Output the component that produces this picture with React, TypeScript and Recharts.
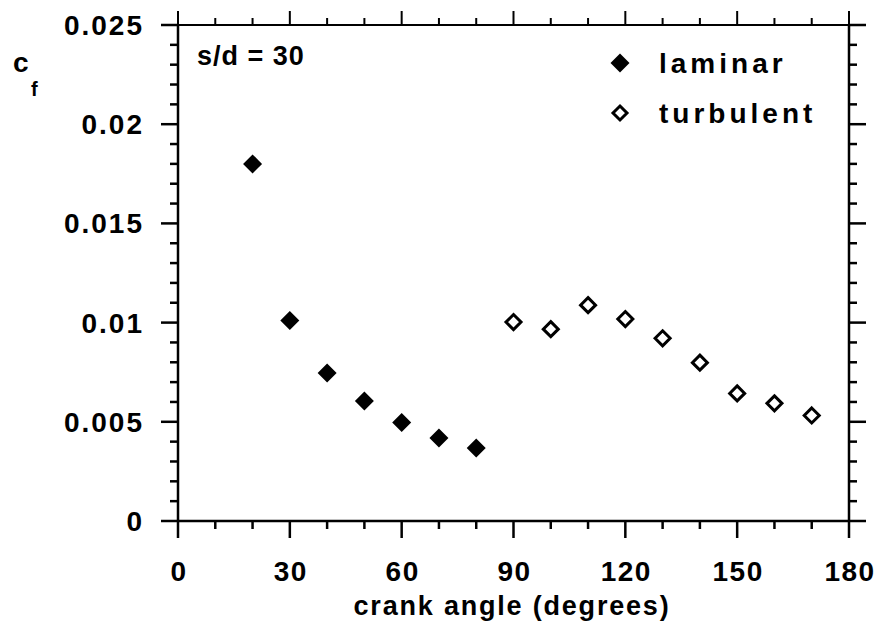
import React from 'react';
import { ScatterChart, Scatter, XAxis, YAxis } from 'recharts';

// crank angle (deg) vs skin friction coefficient
const laminarAngles = [20, 30, 40, 50, 60, 70, 80];
const laminarCf = [0.018, 0.0101, 0.00746, 0.00605, 0.00496, 0.00418, 0.00368];
const turbulentAngles = [90, 100, 110, 120, 130, 140, 150, 160, 170];
const turbulentCf = [0.01003, 0.00967, 0.01088, 0.01018, 0.00921, 0.00798, 0.00643, 0.00593, 0.00532];

const xMajor = [0, 30, 60, 90, 120, 150, 180];
const xMinor = [10, 20, 40, 50, 70, 80, 100, 110, 130, 140, 160, 170];
const yMajor = [0, 0.005, 0.01, 0.015, 0.02, 0.025];
const yLabels = ['0', '0.005', '0.01', '0.015', '0.02', '0.025'];
const yMinor = [0.001, 0.002, 0.003, 0.004, 0.006, 0.007, 0.008, 0.009, 0.011, 0.012, 0.013, 0.014,
  0.016, 0.017, 0.018, 0.019, 0.021, 0.022, 0.023, 0.024];

const laminar = laminarAngles.map((a, i) => ({ angle: a, cf: laminarCf[i] }));
const turbulent = turbulentAngles.map((a, i) => ({ angle: a, cf: turbulentCf[i] }));

const xTicks = [...xMajor, ...xMinor].sort((a, b) => a - b);
const yTicks = [...yMajor, ...yMinor].sort((a, b) => a - b);

const FONT = '"Liberation Sans", Arial, sans-serif';
const MAJ = 17;
const MIN = 8;
const SW = 2.5;

const isMajorX = (v: number) => xMajor.includes(v);
const isMajorY = (v: number) => yMajor.some((m) => Math.abs(m - v) < 1e-9);

const BottomTick = (props: any) => {
  const { x, y, payload } = props;
  const major = isMajorX(payload.value);
  return (
    <g>
      <line x1={x} x2={x} y1={y} y2={y + (major ? MAJ : MIN)} stroke="#000" strokeWidth={SW} />
      {major && (
        <text x={x + 1} y={y + 60} textAnchor="middle" fontFamily={FONT} fontWeight="bold" fontSize={28} letterSpacing={1.5} fill="#000">
          {payload.value}
        </text>
      )}
    </g>
  );
};

const TopTick = (props: any) => {
  const { x, y, payload } = props;
  const major = isMajorX(payload.value);
  return <line x1={x} x2={x} y1={y} y2={y - (major ? 14 : 7)} stroke="#000" strokeWidth={2} />;
};

const LeftTick = (props: any) => {
  const { x, y, payload } = props;
  const idx = yMajor.findIndex((m) => Math.abs(m - payload.value) < 1e-9);
  const major = idx >= 0;
  return (
    <g>
      <line x1={x} x2={x - (major ? MAJ : MIN)} y1={y} y2={y} stroke="#000" strokeWidth={SW} />
      {major && (
        <text x={x - 34} y={y + 10} textAnchor="end" fontFamily={FONT} fontWeight="bold" fontSize={28} letterSpacing={2} fill="#000">
          {yLabels[idx]}
        </text>
      )}
    </g>
  );
};

const RightTick = (props: any) => {
  const { x, y, payload } = props;
  const major = isMajorY(payload.value);
  return <line x1={x} x2={x + (major ? MAJ : MIN)} y1={y} y2={y} stroke="#000" strokeWidth={SW} />;
};

const FilledDiamond = (props: any) => {
  const { cx, cy } = props;
  const r = 9.5;
  return <polygon points={`${cx},${cy - r} ${cx + r},${cy} ${cx},${cy + r} ${cx - r},${cy}`} fill="#000" />;
};

const OpenDiamond = (props: any) => {
  const { cx, cy } = props;
  const r = 7.5;
  return (
    <polygon
      points={`${cx},${cy - r} ${cx + r},${cy} ${cx},${cy + r} ${cx - r},${cy}`}
      fill="#fff"
      stroke="#000"
      strokeWidth={3}
    />
  );
};

const NoShape = () => <g />;

const axisLine = { stroke: '#000', strokeWidth: SW };

export default function App() {
  return (
    <div style={{ position: 'absolute', left: 0, top: 0, width: 882, height: 630, background: '#fff' }}>
      <ScatterChart width={882} height={630} margin={{ top: 24, right: 32, bottom: 0, left: 0 }}>
        <XAxis
          xAxisId={0}
          type="number"
          dataKey="angle"
          domain={[0, 180]}
          ticks={xTicks}
          interval={0}
          tickSize={0}
          tickMargin={0}
          tickLine={false}
          axisLine={axisLine}
          tick={<BottomTick />}
          height={109}
        />
        <XAxis
          xAxisId="top"
          orientation="top"
          type="number"
          dataKey="angle"
          domain={[0, 180]}
          ticks={xTicks}
          interval={0}
          tickSize={0}
          tickMargin={0}
          tickLine={false}
          axisLine={{ stroke: '#000', strokeWidth: 2 }}
          tick={<TopTick />}
          height={1}
        />
        <YAxis
          yAxisId={0}
          type="number"
          dataKey="cf"
          domain={[0, 0.025]}
          ticks={yTicks}
          interval={0}
          tickSize={0}
          tickMargin={0}
          tickLine={false}
          axisLine={axisLine}
          tick={<LeftTick />}
          width={178}
        />
        <YAxis
          yAxisId="right"
          orientation="right"
          type="number"
          dataKey="cf"
          domain={[0, 0.025]}
          ticks={yTicks}
          interval={0}
          tickSize={0}
          tickMargin={0}
          tickLine={false}
          axisLine={axisLine}
          tick={<RightTick />}
          width={1}
        />
        <Scatter name="laminar" data={laminar} shape={<FilledDiamond />} isAnimationActive={false} />
        <Scatter name="turbulent" data={turbulent} shape={<OpenDiamond />} isAnimationActive={false} />
        {/* carries the mirrored frame axes (top / right) */}
        <Scatter
          name="frame"
          data={laminar}
          xAxisId="top"
          yAxisId="right"
          shape={<NoShape />}
          legendType="none"
          isAnimationActive={false}
        />
      </ScatterChart>

      <svg width={882} height={630} style={{ position: 'absolute', left: 0, top: 0, pointerEvents: 'none' }}>
        <text x={13} y={72} fontFamily={FONT} fontWeight="bold" fontSize={28} fill="#000">c</text>
        <text x={31} y={96} fontFamily={FONT} fontWeight="bold" fontSize={20} fill="#000">f</text>
        <text x={512} y={615} textAnchor="middle" fontFamily={FONT} fontWeight="bold" fontSize={27} letterSpacing={1.8} fill="#000">
          crank angle (degrees)
        </text>
        <text x={197} y={65} fontFamily={FONT} fontWeight="bold" fontSize={27} letterSpacing={1} fill="#000">s/d = 30</text>
        <polygon points="620,53.5 629.5,63 620,72.5 610.5,63" fill="#000" />
        <text x={659} y={73} fontFamily={FONT} fontWeight="bold" fontSize={28} letterSpacing={4} fill="#000">laminar</text>
        <polygon points="620,106 627,113 620,120 613,113" fill="#fff" stroke="#000" strokeWidth={3} />
        <text x={659} y={123} fontFamily={FONT} fontWeight="bold" fontSize={28} letterSpacing={4} fill="#000">turbulent</text>
      </svg>
    </div>
  );
}
